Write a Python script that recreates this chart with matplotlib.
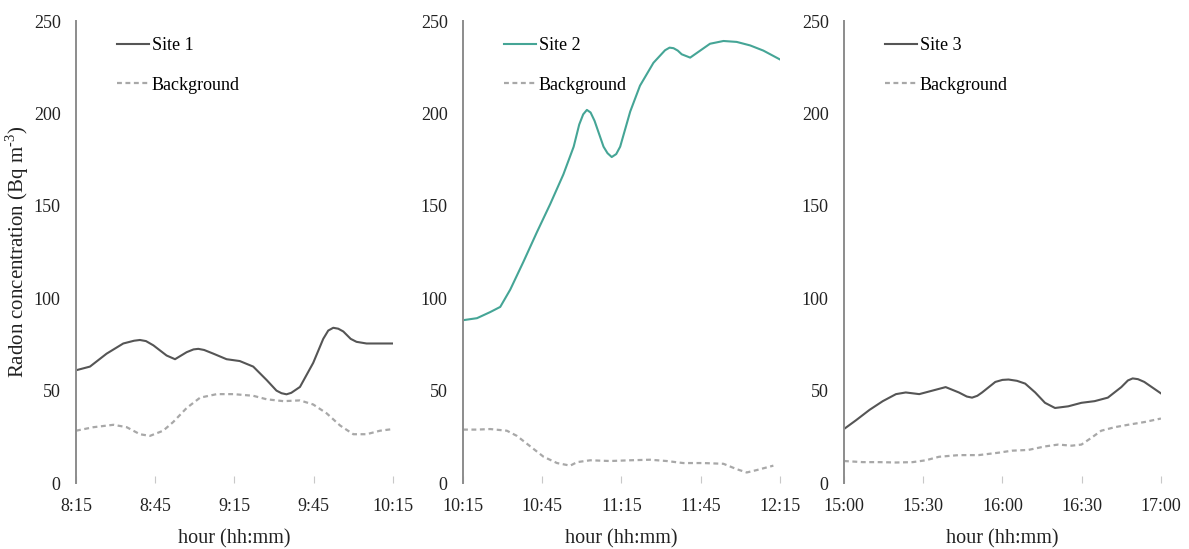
import matplotlib
matplotlib.use("Agg")
import matplotlib.pyplot as plt

# ── Readings (minutes from start of each window, Bq m-3) ─────────────────────
SITE1_T = [0, 5.3, 11.6, 17.9, 22, 24.2, 26.5, 29.3, 34.3, 37.5, 41.9, 44.5, 46.3, 48.5, 52, 57, 62,
           67.1, 72.2, 75.9, 77.8, 79.7, 81.5, 84.8, 89.8, 93.6, 95.5, 97.4, 99.3, 101.2, 104, 106.2, 110, 120]
SITE1_V = [61, 63, 70, 75.5, 77, 77.4, 76.8, 74.5, 69, 67, 70.8, 72.3, 72.6, 72, 70, 67, 66,
           63, 55.7, 50, 48.6, 48, 48.8, 52, 65, 78, 82.5, 84, 83.5, 82, 78, 76.4, 75.5, 75.5]
BG1_T = [0, 6.6, 14.2, 19.2, 24.2, 28, 33, 36.8, 41.9, 47, 53.3, 59.6, 67.1,
         72.2, 78.5, 84.8, 89.8, 94.9, 100, 105, 110, 115.1, 120]
BG1_V = [28.3, 30.2, 31.5, 30.2, 26.4, 25.5, 28.3, 33, 40.6, 46.2, 48.1, 48.1, 47.2,
         45.3, 44.3, 44.7, 42.5, 37.7, 31.1, 26.4, 26.4, 28.3, 29.2]

SITE2_T = [0, 5.3, 10.3, 14.1, 17.9, 22.9, 28, 33, 38, 41.9, 44, 45.5, 46.9, 48.3, 49.8,
           53.2, 54.7, 56.3, 58, 59.5, 63.3, 67, 72.1, 76.5, 78.2, 79.7, 81.3, 82.8, 86, 89.8, 93.5,
           98.6, 103.6, 108.7, 113.7, 120]
SITE2_V = [88.1, 89.2, 92.5, 95.3, 104.7, 119.8, 135.8, 150.9, 167, 182, 194, 199.5, 201.9, 200.5, 196,
           182, 178.5, 176.4, 178, 182, 201, 215, 227.4, 234.2, 235.6, 235.3, 234, 232, 230.2, 234, 237.7,
           239.2, 238.7, 236.8, 234, 229.2]
BG2_T = [0, 5.3, 10.3, 16.6, 20.4, 25.5, 30.5, 35.6, 40.6, 43.2, 48.2, 55.7, 63.3,
         70.8, 77.1, 83.4, 91, 98.6, 103.6, 107.4, 111.2, 117.5]
BG2_V = [28.9, 28.9, 29.2, 28.3, 25.5, 19.8, 14.2, 10.8, 9.4, 11.3, 12.3, 11.9, 12.3,
         12.6, 11.9, 10.8, 10.8, 10.4, 7.5, 5.7, 7, 9.4]

SITE3_T = [0, 4.6, 9.7, 14.7, 19.7, 23.4, 28.5, 33.5, 38.5, 43.5, 46.5, 48.5, 50.5, 52.3, 57.3,
           60, 62.3, 65.5, 68.6, 72.4, 76.1, 79.9, 84.9, 89.9, 94.9, 99.9, 105, 107.5, 109.3, 111.3, 113.7, 120]
SITE3_V = [29.2, 34, 39.6, 44.3, 48.1, 49, 48.1, 50, 51.9, 49, 46.8, 46.2, 47.2, 49, 54.7,
           55.8, 56, 55.3, 53.8, 49, 43.4, 40.6, 41.5, 43.4, 44.3, 46.2, 51.9, 55.5, 56.6, 56.2, 54.7, 48.5]
BG3_T = [0, 7.1, 13.4, 19.7, 26, 31, 36, 43.5, 51, 58.5, 63.6, 69.8, 76.1,
         81.1, 86.2, 89.9, 93.7, 97.4, 102.5, 107.5, 113.8, 120]
BG3_V = [11.9, 11.3, 11.3, 11.1, 11.3, 12.3, 14.2, 15.1, 15.1, 16.4, 17.5, 17.9, 19.8,
         20.8, 20.2, 20.8, 24.5, 28.3, 30.2, 31.5, 33, 34.9]

TICK_POS = [0, 30, 60, 90, 120]
TICKS_1 = ["8:15", "8:45", "9:15", "9:45", "10:15"]
TICKS_2 = ["10:15", "10:45", "11:15", "11:45", "12:15"]
TICKS_3 = ["15:00", "15:30", "16:00", "16:30", "17:00"]

DARK = "#555555"
TEAL = "#45a596"
BG_GRAY = "#a8a8a8"
AXIS = "#8c8c8c"

plt.rcParams["font.family"] = ["Liberation Serif", "DejaVu Serif"]
plt.rcParams["mathtext.fontset"] = "custom"
plt.rcParams["mathtext.rm"] = "Liberation Serif"

fig = plt.figure(figsize=(11.89, 5.49), dpi=100, facecolor="white")

panels = [
    (0.0639, "Site 1", DARK, SITE1_T, SITE1_V, BG1_T, BG1_V, TICKS_1),
    (0.3894, "Site 2", TEAL, SITE2_T, SITE2_V, BG2_T, BG2_V, TICKS_2),
    (0.7098, "Site 3", DARK, SITE3_T, SITE3_V, BG3_T, BG3_V, TICKS_3),
]

axes = []
for left, name, col, st, sv, bt, bv, ticks in panels:
    ax = fig.add_axes([left, 0.1202, 0.2666, 0.8415])
    ax.plot(st, sv, color=col, linewidth=1.5, label=name, solid_joinstyle="round")
    ax.plot(bt, bv, color=BG_GRAY, linewidth=1.6, linestyle=(0, (2.2, 1.6)), label="Background")
    ax.set_xlim(0, 120)
    ax.set_ylim(0, 250)
    ax.set_xticks(TICK_POS)
    ax.set_xticklabels(ticks)
    ax.set_yticks([0, 50, 100, 150, 200, 250])
    for s in ["top", "right", "bottom"]:
        ax.spines[s].set_visible(False)
    ax.spines["left"].set_color(AXIS)
    ax.spines["left"].set_linewidth(1.4)
    ax.tick_params(axis="y", length=0, pad=11, labelsize=13, labelcolor="#222222")
    ax.tick_params(axis="x", direction="in", length=5, width=0.8, color="#c8c8c8",
                   pad=11, labelsize=13, labelcolor="#222222")
    ax.set_xlabel("hour (hh:mm)", fontsize=14.5, color="#222222", labelpad=10)
    ax.legend(loc="upper left", bbox_to_anchor=(0.128, 0.965), frameon=False,
              fontsize=13, handlelength=1.8, handletextpad=0.15,
              labelspacing=1.25, borderpad=0, borderaxespad=0)
    axes.append(ax)

axes[0].set_ylabel("Radon concentration (Bq m$^{\\mathregular{\\text{-}3}}$)", fontsize=15,
                   color="#222222", labelpad=2)

plt.savefig("out.png", dpi=100, facecolor="white")
plt.close(fig)
